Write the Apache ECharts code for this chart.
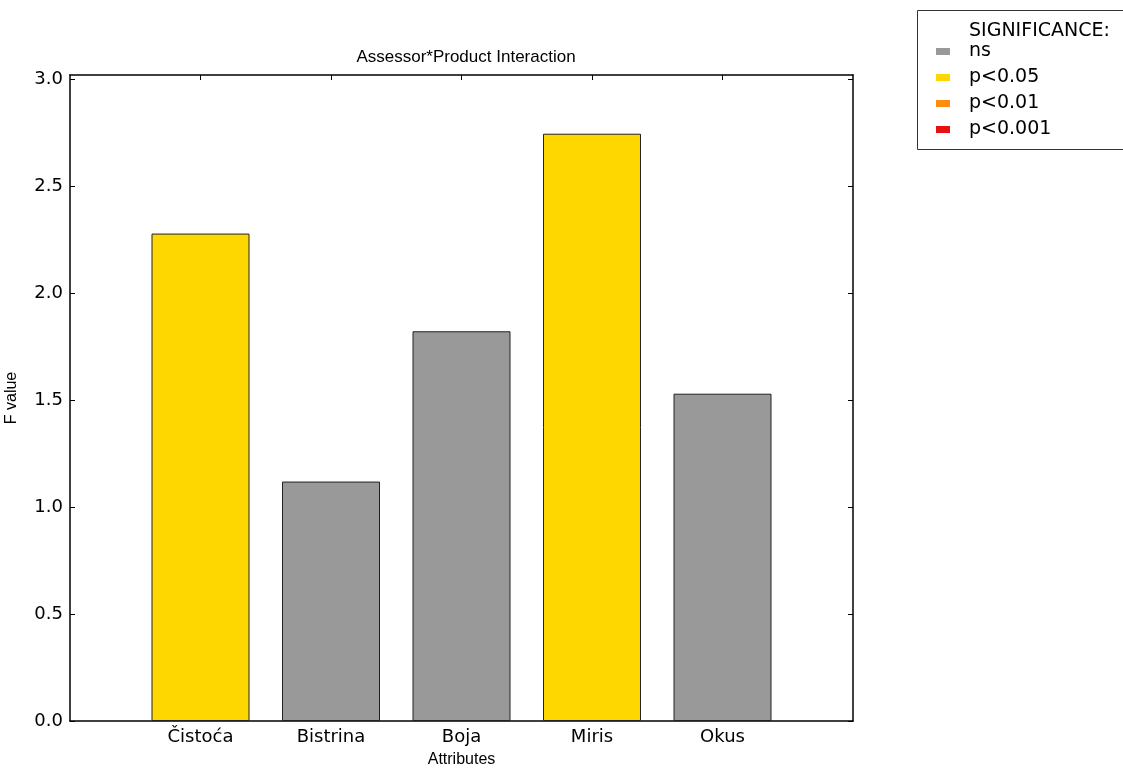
<!DOCTYPE html>
<html>
<head>
<meta charset="utf-8">
<script src="https://cdn.jsdelivr.net/npm/echarts@6/dist/echarts.min.js"></script>
<style>html,body{margin:0;padding:0;background:#fff;}#chart{width:1123px;height:769px;}</style>
</head>
<body>
<div id="chart"></div>
<script>
const categories = ['Čistoća', 'Bistrina', 'Boja', 'Miris', 'Okus'];
const fValues = [2.280, 1.120, 1.823, 2.747, 1.531];
const significance = ['p<0.05', 'ns', 'ns', 'p<0.05', 'ns'];
const levels = ['ns', 'p<0.05', 'p<0.01', 'p<0.001'];
const levelColors = ['#999999', '#FFD700', '#FF8C0F', '#E81010'];
const yTicks = [0, 0.5, 1.0, 1.5, 2.0, 2.5, 3.0];

const yMax = Math.max(...fValues) * 1.1;
const catIdx = categories.map((c, i) => i);

const series = levels.map((lv, k) => ({
  name: lv,
  type: 'bar',
  xAxisIndex: 0,
  yAxisIndex: 0,
  barWidth: 98,
  barGap: '-100%',
  itemStyle: { color: levelColors[k], borderColor: '#222', borderWidth: 1 },
  emphasis: { disabled: true },
  data: categories.map((c, i) => significance[i] === lv ? [i, fValues[i]] : null).filter(d => d)
}));

const chart = echarts.init(document.getElementById('chart'), null, { renderer: 'canvas' });
const axisLineStyle = { color: '#000', width: 1.5 };
const tickStyle = { color: '#000', width: 1 };
chart.setOption({
  animation: false,
  backgroundColor: '#fff',
  title: [
    { text: 'Assessor*Product Interaction', left: 461, top: 44, textAlign: 'center',
      textStyle: { fontFamily: 'Liberation Sans', fontSize: 17, fontWeight: 'normal', color: '#000' } },
    { text: 'SIGNIFICANCE:', left: 969, top: 22, padding: 0,
      textStyle: { fontFamily: 'DejaVu Sans', fontSize: 19, fontWeight: 'normal', color: '#000' } }
  ],
  graphic: [
    { type: 'rect', shape: { x: 917.5, y: 10.5, width: 230, height: 139 },
      style: { fill: 'none', stroke: '#333', lineWidth: 1 }, z: 0 }
  ],
  legend: {
    orient: 'vertical', left: 936, top: 42, padding: 0,
    itemWidth: 14, itemHeight: 7, itemGap: 7,
    icon: 'rect',
    itemStyle: { borderWidth: 0 },
    textStyle: { fontFamily: 'DejaVu Sans', fontSize: 19, color: '#000', lineHeight: 18.5, padding: [0, 0, 0, 14] },
    data: levels,
    selectedMode: false
  },
  grid: { left: 70, right: 270, top: 75, bottom: 48, containLabel: false, outerBoundsMode: 'none' },
  xAxis: [
    { type: 'value', min: -1, max: 5, interval: 1, position: 'bottom',
      axisLine: { show: true, onZero: false, lineStyle: axisLineStyle },
      axisTick: { show: true, inside: true, length: 5, customValues: catIdx, lineStyle: tickStyle },
      axisLabel: { customValues: catIdx, margin: 7, fontFamily: 'DejaVu Sans', fontSize: 18, color: '#000',
        formatter: v => categories[Math.round(v)] || '' },
      splitLine: { show: false },
      name: 'Attributes', nameLocation: 'middle', nameGap: 31,
      nameTextStyle: { fontFamily: 'Liberation Sans', fontSize: 16, color: '#000' } },
    { type: 'value', min: -1, max: 5, interval: 1, position: 'top',
      axisLine: { show: true, onZero: false, lineStyle: axisLineStyle },
      axisTick: { show: true, inside: true, length: 5, customValues: catIdx, lineStyle: tickStyle },
      axisLabel: { show: false }, splitLine: { show: false } }
  ],
  yAxis: [
    { type: 'value', min: 0, max: yMax, position: 'left',
      axisLine: { show: true, onZero: false, lineStyle: axisLineStyle },
      axisTick: { show: true, inside: true, length: 5, customValues: yTicks, lineStyle: tickStyle },
      axisLabel: { customValues: yTicks, margin: 7, fontFamily: 'DejaVu Sans', fontSize: 18, color: '#000',
        formatter: v => v.toFixed(1) },
      splitLine: { show: false },
      name: 'F value', nameLocation: 'middle', nameGap: 50, nameRotate: 90,
      nameTextStyle: { fontFamily: 'Liberation Sans', fontSize: 16, color: '#000' } },
    { type: 'value', min: 0, max: yMax, position: 'right',
      axisLine: { show: true, onZero: false, lineStyle: axisLineStyle },
      axisTick: { show: true, inside: true, length: 5, customValues: yTicks, lineStyle: tickStyle },
      axisLabel: { show: false }, splitLine: { show: false } }
  ],
  series: series
});
</script>
</body>
</html>
